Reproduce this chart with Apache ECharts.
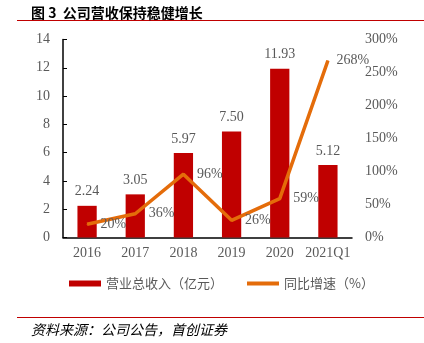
<!DOCTYPE html>
<html><head><meta charset="utf-8">
<script src="https://cdn.jsdelivr.net/npm/echarts@6/dist/echarts.min.js"></script>
<style>html,body{margin:0;padding:0;background:#fff;}#c{width:424px;height:343px;}</style>
</head><body><div id="c"></div>
<script>
const categories = ['2016', '2017', '2018', '2019', '2020', '2021Q1'];
const revenue = [2.24, 3.05, 5.97, 7.50, 11.93, 5.12];
const growth = [20, 36, 96, 26, 59, 268];
const leftTicks = [0, 14, 2];
const rightTicks = [0, 300, 50];
const titleText = '图 3  公司营收保持稳健增长';
const sourceText = '资料来源：公司公告，首创证券';
const seriesNames = ['营业总收入（亿元）', '同比增速（%）'];

const chart = echarts.init(document.getElementById('c'));
const serif = '"Liberation Serif", "DejaVu Serif", serif';
const cjk = '"Noto Sans CJK SC", sans-serif';
const growthData = growth.map((v, i) => i === growth.length - 1
  ? { value: v, label: { distance: 8, offset: [0, 1] } }
  : v);
chart.setOption({
  animation: false,
  backgroundColor: '#fff',
  title: [
    { text: titleText, left: 26, top: 1, textStyle: { fontFamily: cjk, fontSize: 14, fontWeight: 'bold', color: '#000' } },
    { text: sourceText, left: 26, top: 318, textStyle: { fontFamily: cjk, fontSize: 14, fontStyle: 'italic', fontWeight: 'normal', color: '#000' } }
  ],
  graphic: [
    { type: 'line', shape: { x1: 17, y1: 20.5, x2: 424, y2: 20.5 }, style: { stroke: '#c00000', lineWidth: 1 } },
    { type: 'line', shape: { x1: 17, y1: 317.5, x2: 424, y2: 317.5 }, style: { stroke: '#c00000', lineWidth: 1 } }
  ],
  legend: {
    bottom: 48, left: 64, itemGap: 24, itemWidth: 32, itemHeight: 6,
    textStyle: { fontFamily: cjk, fontSize: 13, color: '#595959' },
    data: [
      { name: seriesNames[0], icon: 'rect' },
      { name: seriesNames[1], icon: 'path://M0,0 L32,0 L32,4 L0,4 Z', itemStyle: { color: '#e46c0a' } }
    ]
  },
  grid: { left: 63, right: 72, top: 39.5, bottom: 105.5 },
  xAxis: {
    type: 'category', data: categories,
    axisLine: { lineStyle: { color: '#000', width: 1.5 } },
    axisTick: { show: false },
    axisLabel: { interval: 0, fontFamily: serif, fontSize: 14, color: '#595959', margin: 9 }
  },
  yAxis: [
    {
      type: 'value', min: leftTicks[0], max: leftTicks[1], interval: leftTicks[2],
      axisLine: { show: true, lineStyle: { color: '#000', width: 1.5 } },
      axisTick: { show: true, inside: true, length: 4, lineStyle: { color: '#000' } },
      splitLine: { show: false },
      axisLabel: { fontFamily: serif, fontSize: 14, color: '#595959', margin: 13 }
    },
    {
      type: 'value', min: rightTicks[0], max: rightTicks[1], interval: rightTicks[2],
      axisLine: { show: false }, axisTick: { show: false }, splitLine: { show: false },
      axisLabel: { fontFamily: serif, fontSize: 14, color: '#595959', margin: 13, formatter: '{value}%' }
    }
  ],
  series: [
    {
      name: seriesNames[0], type: 'bar', data: revenue, barWidth: '40%',
      itemStyle: { color: '#c00000' },
      label: { show: true, position: 'top', distance: 7, fontFamily: serif, fontSize: 14, color: '#595959', formatter: p => p.value.toFixed(2) }
    },
    {
      name: seriesNames[1], type: 'line', yAxisIndex: 1, data: growthData,
      symbol: 'circle', symbolSize: 1, showSymbol: true,
      lineStyle: { color: '#e46c0a', width: 3.5 }, itemStyle: { color: '#e46c0a' },
      labelLayout: { hideOverlap: false },
      label: { show: true, position: 'right', distance: 13, offset: [0, 2], fontFamily: serif, fontSize: 14, color: '#595959', formatter: '{c}%' }
    }
  ]
});
</script></body></html>
